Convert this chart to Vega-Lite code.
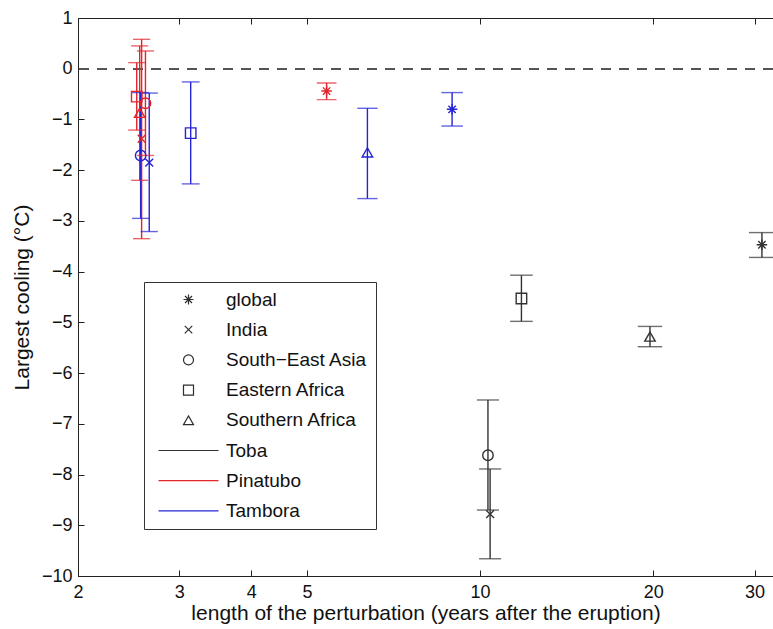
{
  "$schema": "https://vega.github.io/schema/vega-lite/v6.json",
  "autosize": {"type": "none"},
  "padding": {"left": 78, "top": 18, "right": 0, "bottom": 53},
  "width": 695,
  "height": 558,
  "background": "white",
  "config": {
    "font": "Liberation Sans",
    "view": {"stroke": "#222", "strokeWidth": 1},
    "axis": {"grid": false}
  },
  "data": {
    "values": [
      {"eruption": "Toba", "region": "global", "x": 30.9, "y": -3.47, "lo": -3.72, "hi": -3.23},
      {"eruption": "Toba", "region": "India", "x": 10.41, "y": -8.78, "lo": -9.66, "hi": -7.89},
      {"eruption": "Toba", "region": "South-East Asia", "x": 10.32, "y": -7.62, "lo": -8.70, "hi": -6.53},
      {"eruption": "Toba", "region": "Eastern Africa", "x": 11.8, "y": -4.53, "lo": -4.98, "hi": -4.07},
      {"eruption": "Toba", "region": "Southern Africa", "x": 19.74, "y": -5.28, "lo": -5.48, "hi": -5.08},
      {"eruption": "Pinatubo", "region": "global", "x": 5.41, "y": -0.44, "lo": -0.61, "hi": -0.28},
      {"eruption": "Pinatubo", "region": "India", "x": 2.58, "y": -1.38, "lo": -3.35, "hi": 0.58},
      {"eruption": "Pinatubo", "region": "South-East Asia", "x": 2.62, "y": -0.68, "lo": -1.71, "hi": 0.35},
      {"eruption": "Pinatubo", "region": "Eastern Africa", "x": 2.53, "y": -0.55, "lo": -1.21, "hi": 0.12},
      {"eruption": "Pinatubo", "region": "Southern Africa", "x": 2.56, "y": -0.87, "lo": -2.2, "hi": 0.45},
      {"eruption": "Tambora", "region": "global", "x": 8.94, "y": -0.80, "lo": -1.13, "hi": -0.47},
      {"eruption": "Tambora", "region": "India", "x": 2.66, "y": -1.85, "lo": -3.21, "hi": -0.48},
      {"eruption": "Tambora", "region": "South-East Asia", "x": 2.57, "y": -1.71, "lo": -2.95, "hi": -0.47},
      {"eruption": "Tambora", "region": "Eastern Africa", "x": 3.14, "y": -1.27, "lo": -2.27, "hi": -0.26},
      {"eruption": "Tambora", "region": "Southern Africa", "x": 6.37, "y": -1.65, "lo": -2.56, "hi": -0.78}
    ]
  },
  "resolve": {"axis": {"x": "independent"}, "scale": {"color": "independent", "shape": "independent"}},
  "layer": [
    {
      "mark": {"type": "rule", "strokeDash": [10, 8], "color": "#555555", "strokeWidth": 1.4},
      "encoding": {
        "y": {"datum": 0, "type": "quantitative", "scale": {"domain": [-10, 1], "nice": false, "zero": false},
          "axis": {"title": "Largest cooling (°C)", "values": [-10, -9, -8, -7, -6, -5, -4, -3, -2, -1, 0, 1], "format": "d", "tickSize": -6, "labelPadding": 12, "labelFontSize": 18, "labelColor": "#111", "titleFontSize": 21, "titleFontWeight": "normal", "titleColor": "#111", "titlePadding": 9, "domainColor": "#222", "tickColor": "#222"}}
      }
    },
    {
      "mark": {"type": "rule", "strokeWidth": 1.4},
      "encoding": {
        "x": {"field": "x", "type": "quantitative", "scale": {"type": "log", "domain": [2, 32.3], "nice": false},
          "axis": {"orient": "top", "labels": false, "title": null, "values": [2, 3, 4, 5, 10, 20, 30], "tickSize": -6, "domain": false, "tickColor": "#222"}},
        "y": {"field": "lo", "type": "quantitative", "scale": {"domain": [-10, 1], "nice": false, "zero": false}, "title": "Largest cooling (°C)"},
        "y2": {"field": "hi"},
        "color": {"field": "eruption", "type": "nominal", "scale": {"domain": ["Toba", "Pinatubo", "Tambora"], "range": ["#333333", "#e3242b", "#2424d6"]}, "legend": null}
      }
    },
    {
      "mark": {"type": "tick", "orient": "horizontal", "thickness": 1.4},
      "encoding": {
        "x": {"field": "x", "type": "quantitative", "scale": {"type": "log", "domain": [2, 32.3], "nice": false}, "axis": null},
        "y": {"field": "lo", "type": "quantitative", "scale": {"domain": [-10, 1], "nice": false, "zero": false}, "title": "Largest cooling (°C)"},
        "size": {"field": "x", "type": "quantitative", "scale": {"type": "log", "domain": [2.5, 31], "range": [17, 26]}, "legend": null},
        "color": {"field": "eruption", "type": "nominal", "scale": {"domain": ["Toba", "Pinatubo", "Tambora"], "range": ["#333333", "#e3242b", "#2424d6"]}, "legend": null}
      }
    },
    {
      "mark": {"type": "tick", "orient": "horizontal", "thickness": 1.4},
      "encoding": {
        "x": {"field": "x", "type": "quantitative", "scale": {"type": "log", "domain": [2, 32.3], "nice": false}, "axis": null},
        "y": {"field": "hi", "type": "quantitative", "scale": {"domain": [-10, 1], "nice": false, "zero": false}, "title": "Largest cooling (°C)"},
        "size": {"field": "x", "type": "quantitative", "legend": null},
        "color": {"field": "eruption", "type": "nominal", "scale": {"domain": ["Toba", "Pinatubo", "Tambora"], "range": ["#333333", "#e3242b", "#2424d6"]}, "legend": null}
      }
    },
    {
      "mark": {"type": "point", "filled": false, "size": 110, "strokeWidth": 1.4, "opacity": 1},
      "encoding": {
        "x": {"field": "x", "type": "quantitative", "scale": {"type": "log", "domain": [2, 32.3], "nice": false},
          "axis": {"orient": "bottom", "title": "length of the perturbation (years after the eruption)", "values": [2, 3, 4, 5, 10, 20, 30], "format": "d", "tickSize": -6, "labelPadding": 13, "labelFontSize": 18, "labelColor": "#111", "titleFontSize": 21, "titleFontWeight": "normal", "titleColor": "#111", "titlePadding": 1, "domainColor": "#222", "tickColor": "#222", "labelFlush": false}},
        "y": {"field": "y", "type": "quantitative", "scale": {"domain": [-10, 1], "nice": false, "zero": false}, "title": "Largest cooling (°C)"},
        "color": {"field": "eruption", "type": "nominal", "scale": {"domain": ["Toba", "Pinatubo", "Tambora"], "range": ["#333333", "#e3242b", "#2424d6"]}, "legend": null},
        "shape": {
          "field": "region", "type": "nominal",
          "scale": {
            "domain": ["global", "India", "South-East Asia", "Eastern Africa", "Southern Africa"],
            "range": ["M0,-1V1M-1,0H1M-0.7,-0.7L0.7,0.7M-0.7,0.7L0.7,-0.7", "M-0.75,-0.75L0.75,0.75M-0.75,0.75L0.75,-0.75", "circle", "square", "triangle-up"]
          },
          "legend": null
        }
      }
    },
    {
      "transform": [{"fold": ["region", "eruption"], "as": ["kind", "key"]}],
      "mark": {"type": "point", "filled": false, "size": 100, "strokeWidth": 1.2, "opacity": 0},
      "encoding": {
        "x": {"field": "x", "type": "quantitative", "scale": {"type": "log", "domain": [2, 32.3], "nice": false}, "axis": null},
        "y": {"field": "y", "type": "quantitative", "scale": {"domain": [-10, 1], "nice": false, "zero": false}, "title": "Largest cooling (°C)"},
        "color": {
          "field": "key", "type": "nominal",
          "scale": {
            "domain": ["global", "India", "South-East Asia", "Eastern Africa", "Southern Africa", "Toba", "Pinatubo", "Tambora"],
            "range": ["#2d2d2d", "#2d2d2d", "#2d2d2d", "#2d2d2d", "#2d2d2d", "#333333", "#e3242b", "#2424d6"]
          },
          "legend": {
            "title": null, "orient": "none", "legendX": 66, "legendY": 264, "direction": "vertical",
            "symbolSize": 100, "symbolStrokeWidth": 1.2, "symbolOpacity": 1,
            "labelFontSize": 19, "labelColor": "#111", "labelLimit": 300,
            "labelExpr": "replace(datum.label, '-', '−')",
            "padding": 8, "rowPadding": 10.2, "symbolOffset": 27, "labelOffset": 28,
            "strokeColor": "#333", "fillColor": "white"
          }
        },
        "shape": {
          "field": "key", "type": "nominal",
          "scale": {
            "domain": ["global", "India", "South-East Asia", "Eastern Africa", "Southern Africa", "Toba", "Pinatubo", "Tambora"],
            "range": ["M0,-1V1M-1,0H1M-0.7,-0.7L0.7,0.7M-0.7,0.7L0.7,-0.7", "M-0.75,-0.75L0.75,0.75M-0.75,0.75L0.75,-0.75", "circle", "square", "triangle-up", "M-6,0H6", "M-6,0H6", "M-6,0H6"]
          },
          "legend": {
            "title": null, "orient": "none", "legendX": 66, "legendY": 264, "direction": "vertical",
            "symbolSize": 100, "symbolStrokeWidth": 1.2, "symbolOpacity": 1,
            "labelFontSize": 19, "labelColor": "#111", "labelLimit": 300,
            "labelExpr": "replace(datum.label, '-', '−')",
            "padding": 8, "rowPadding": 10.2, "symbolOffset": 27, "labelOffset": 28,
            "strokeColor": "#333", "fillColor": "white"
          }
        }
      }
    }
  ]
}
